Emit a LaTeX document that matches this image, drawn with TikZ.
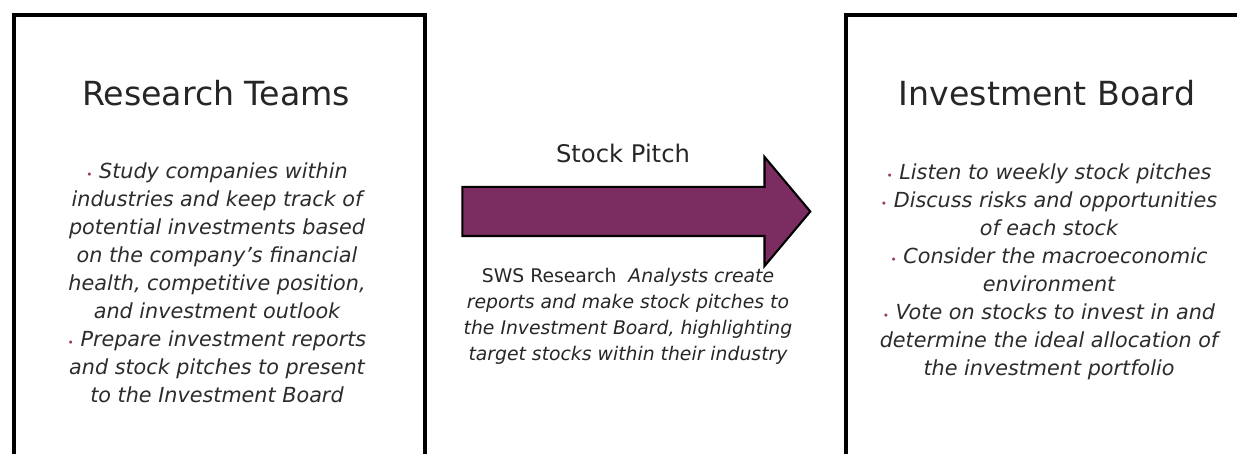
\documentclass[tikz,border=0pt]{standalone}
\usepackage{fontspec}
\setmainfont{DejaVu Sans}
\usetikzlibrary{shapes.arrows}

\definecolor{pitchplum}{HTML}{7B2D62}
\definecolor{dotplum}{HTML}{9A3A6E}
\definecolor{bodygray}{HTML}{2C2C2C}

% small plum bullet in front of each point
\newcommand{\pdot}{{\color{dotplum}\fontsize{6}{6}\selectfont\textbullet}\ }

\begin{document}
\begin{tikzpicture}[
  panel/.style={draw=black, line width=2.3pt, fill=white, anchor=north west,
    minimum width=8.22cm, minimum height=9.4cm},
  heading/.style={font=\fontsize{18.9}{21}\selectfont, text=black!85},
  points/.style={align=center, text=bodygray, font=\fontsize{11.8}{15.9}\selectfont\itshape},
  pitcharrow/.style={single arrow, draw=black, line width=1.2pt, fill=pitchplum,
    inner xsep=0pt, inner ysep=0.47cm, minimum width=0pt, minimum height=6.96cm,
    single arrow head extend=0.6cm, single arrow head indent=0pt,
    single arrow tip angle=100}
]
\useasboundingbox (0,0) rectangle (24.74,9.06);

\def\Top{8.8} % top edge of both panels

% the two panels
\node[panel] (research) at (0.24,\Top) {};
\node[panel] (board) at (16.88,\Top) {};

\node[heading] (researchtitle) at (4.32,7.2) {Research Teams};
\node[heading] (boardtitle) at (20.94,7.2) {Investment Board};

\node[points] (researchpoints) at (4.34,3.4) {%
  \pdot Study companies within\\
  industries and keep track of\\
  potential investments based\\
  on the company’s financial\\
  health, competitive position,\\
  and investment outlook\\
  \pdot Prepare investment reports\\
  and stock pitches to present\\
  to the Investment Board};

\node[points] (boardpoints) at (20.98,3.62) {%
  \pdot Listen to weekly stock pitches\\
  \pdot Discuss risks and opportunities\\
  of each stock\\
  \pdot Consider the macroeconomic\\
  environment\\
  \pdot Vote on stocks to invest in and\\
  determine the ideal allocation of\\
  the investment portfolio};

% the pitch going from the teams to the board
\node[pitcharrow] (pitch) at (12.52,4.83) {};
\node[font=\fontsize{13.8}{15}\selectfont, text=black!85] (pitchlabel) at (12.46,6.0) {Stock Pitch};
\node[points, text=black!85, font=\fontsize{10.7}{14.8}\selectfont\itshape] (pitchnote) at (12.56,2.74) {%
  {\upshape SWS Research}\ \ Analysts create\\
  reports and make stock pitches to\\
  the Investment Board, highlighting\\
  target stocks within their industry};
\end{tikzpicture}
\end{document}
